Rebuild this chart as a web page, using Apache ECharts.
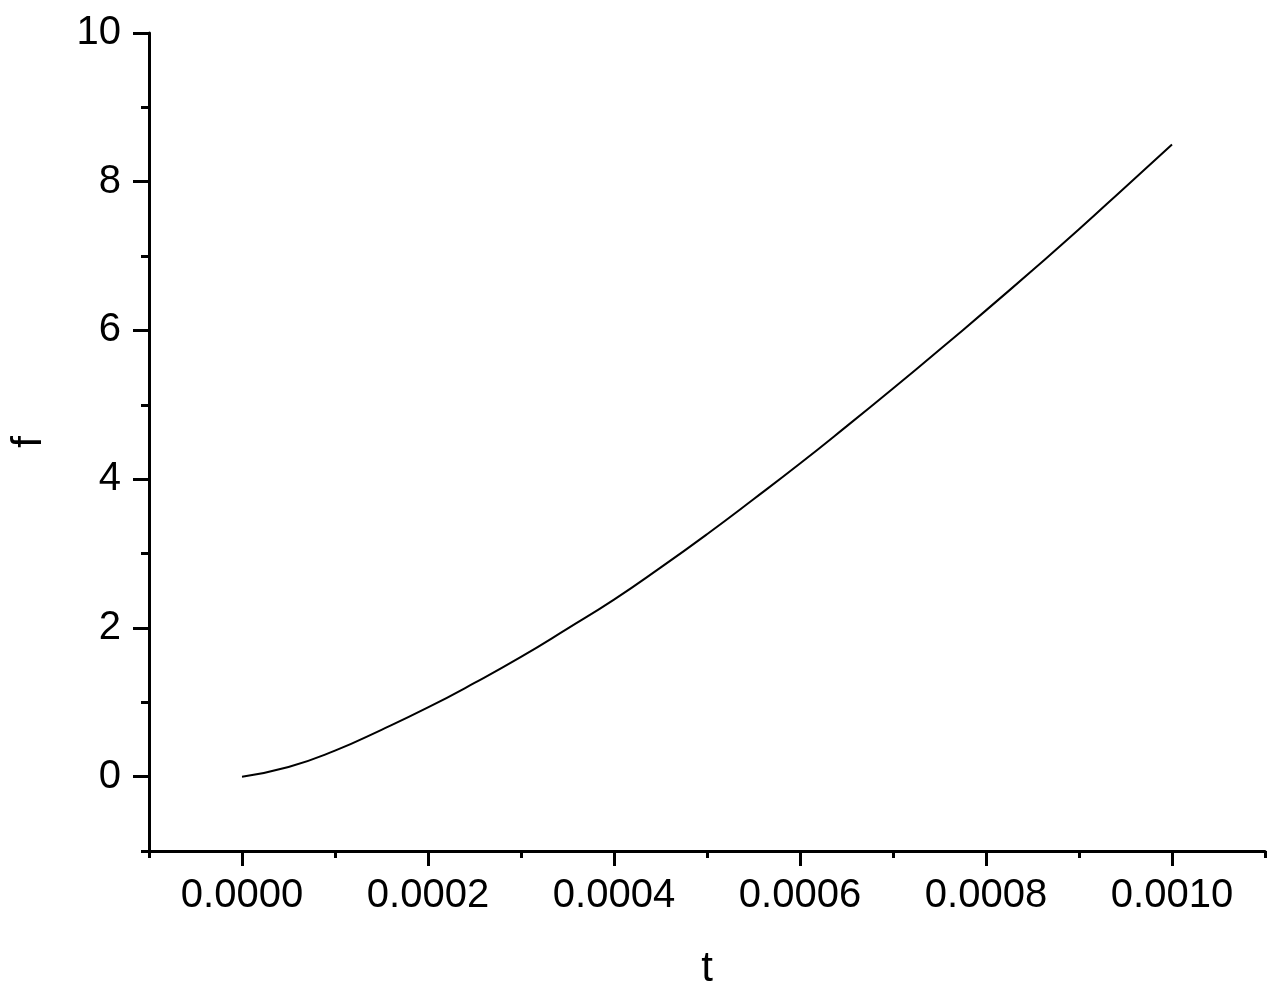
<!DOCTYPE html>
<html>
<head>
<meta charset="utf-8">
<script src="https://cdn.jsdelivr.net/npm/echarts@6/dist/echarts.min.js"></script>
<style>
  html, body { margin: 0; padding: 0; background: #fff; }
  #chart { width: 1277px; height: 992px; }
</style>
</head>
<body>
<div id="chart"></div>
<script>
// valeurs
const tValues = [0, 0.00005, 0.0001, 0.00015, 0.0002, 0.00025, 0.0003, 0.00035, 0.0004,
  0.00045, 0.0005, 0.00055, 0.0006, 0.00065, 0.0007, 0.00075, 0.0008, 0.00085, 0.0009,
  0.00095, 0.001];
const fValues = [0, 0.13, 0.35, 0.63, 0.93, 1.26, 1.61, 1.99, 2.38,
  2.81, 3.26, 3.73, 4.21, 4.71, 5.22, 5.74, 6.27, 6.81, 7.36,
  7.93, 8.5];

// graduations
const xMajorTicks = [0, 0.0002, 0.0004, 0.0006, 0.0008, 0.001];
const xMinorTicks = [-0.0001, 0.0001, 0.0003, 0.0005, 0.0007, 0.0009, 0.0011];
const yMajorTicks = [0, 2, 4, 6, 8, 10];
const yMinorTicks = [-1, 1, 3, 5, 7, 9];

const font = "'Liberation Sans', Arial, sans-serif";

var chartDom = document.getElementById("chart");
var myChart = echarts.init(chartDom, null, { renderer: "canvas" });

var axisLineStyle = { color: "#000", width: 3 };

var option = {
  animation: false,
  backgroundColor: "#fff",
  grid: {
    left: 149,
    right: 12,
    top: 33,
    bottom: 141,
    containLabel: false,
    outerBoundsMode: "none",
  },
  xAxis: [
    {
      type: "value",
      min: -0.0001,
      max: 0.0011,
      name: "t",
      nameLocation: "middle",
      nameGap: 97,
      nameTextStyle: { fontFamily: font, fontSize: 42, color: "#000" },
      axisLine: { show: true, onZero: false, lineStyle: axisLineStyle },
      axisTick: {
        show: true,
        customValues: xMajorTicks,
        length: 15,
        lineStyle: { color: "#000", width: 3 },
      },
      axisLabel: {
        customValues: xMajorTicks,
        margin: 25,
        fontFamily: font,
        fontSize: 40,
        color: "#000",
        formatter: (v) => v.toFixed(4),
      },
      splitLine: { show: false },
    },
    {
      type: "value",
      position: "bottom",
      min: -0.0001,
      max: 0.0011,
      axisLine: { show: false, onZero: false },
      axisTick: {
        show: true,
        customValues: xMinorTicks,
        length: 7,
        lineStyle: { color: "#000", width: 3 },
      },
      axisLabel: { show: false },
      splitLine: { show: false },
    },
  ],
  yAxis: [
    {
      type: "value",
      min: -1,
      max: 10,
      name: "f",
      nameLocation: "middle",
      nameGap: 99,
      nameRotate: 90,
      nameTextStyle: { fontFamily: font, fontSize: 42, color: "#000" },
      axisLine: { show: true, onZero: false, lineStyle: axisLineStyle },
      axisTick: {
        show: true,
        customValues: yMajorTicks,
        length: 16,
        lineStyle: { color: "#000", width: 3 },
      },
      axisLabel: {
        customValues: yMajorTicks,
        margin: 28,
        fontFamily: font,
        fontSize: 40,
        color: "#000",
      },
      splitLine: { show: false },
    },
    {
      type: "value",
      position: "left",
      min: -1,
      max: 10,
      axisLine: { show: false, onZero: false },
      axisTick: {
        show: true,
        customValues: yMinorTicks,
        length: 8,
        lineStyle: { color: "#000", width: 3 },
      },
      axisLabel: { show: false },
      splitLine: { show: false },
    },
  ],
  series: [
    {
      type: "line",
      xAxisIndex: 0,
      yAxisIndex: 0,
      data: tValues.map((t, i) => [t, fValues[i]]),
      smooth: true,
      showSymbol: false,
      lineStyle: { color: "#000", width: 2 },
    },
  ],
};

myChart.setOption(option);
</script>
</body>
</html>
